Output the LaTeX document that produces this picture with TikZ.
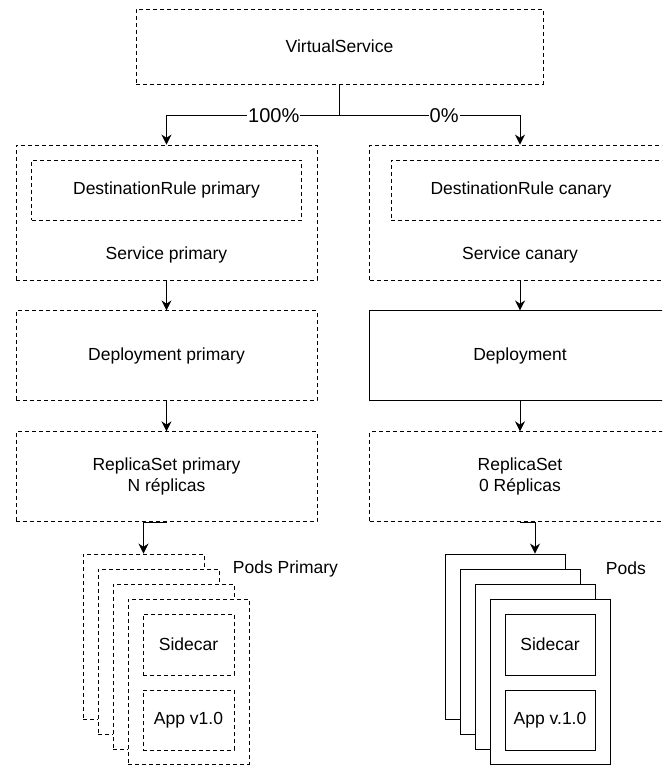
\documentclass[tikz,border=0pt]{standalone}
\usepackage{fontspec}
\setmainfont{Liberation Sans}
\usetikzlibrary{positioning,arrows.meta}

\tikzset{
  dbox/.style={draw, dash pattern=on 4pt off 3pt, line width=0.9pt, minimum width=301pt},
  sbox/.style={draw, line width=0.9pt, minimum width=301pt},
  link/.style={draw, line width=0.9pt},
  arrow/.style={link, -{Stealth[length=10pt,width=10pt]}},
  pct/.style={fill=white, inner sep=1pt, font=\fontsize{20}{24}\selectfont},
  podP/.style={dbox, fill=white, minimum width=121pt, minimum height=165pt},
  podC/.style={sbox, fill=white, minimum width=120pt, minimum height=165pt},
}

\begin{document}
\begin{tikzpicture}[x=1pt, y=-1pt, font=\fontsize{17.5}{21}\selectfont]
    \useasboundingbox (0,0) rectangle (662,765);
    \clip (0,0) rectangle (662,765);

    % top
    \node[dbox, minimum width=407pt, minimum height=75pt] (vs) at (339.5,46.5) {VirtualService};
    \coordinate[below=31pt of vs.south] (split);

    % primary side
    \node[dbox, minimum height=135pt] (svcP) at (166.5,212.5) {};
    \node[dbox, minimum width=270pt, minimum height=60pt, below=15pt of svcP.north] (drP) {DestinationRule primary};
    \node[above=14pt of svcP.south] (svcPtxt) {Service primary};
    \node[dbox, minimum height=90pt, below=30pt of svcP] (depP) {Deployment primary};
    \node[dbox, minimum height=90pt, below=30pt of depP, align=center] (repP) {ReplicaSet primary\\N réplicas};

    % canary side
    \node[dbox, minimum height=135pt] (svcC) at (520,212.5) {};
    \node[dbox, minimum width=300pt, minimum height=60pt, anchor=north west] (drC) at (391,160) {};
    \node (drCtxt) at (521,190) {DestinationRule canary};
    \node[above=14pt of svcC.south] (svcCtxt) {Service canary};
    \node[sbox, minimum height=90pt, below=30pt of svcC] (depC) {Deployment};
    \node[dbox, minimum height=90pt, below=30pt of depC, align=center] (repC) {ReplicaSet\\0 Réplicas};

    % pods
    \foreach \i in {1,...,4}
        \node[podP] (podP\i) at (128.5+15*\i, 621.5+15*\i) {};
    \node[dbox, minimum width=91pt, minimum height=61pt] (scP) at (188.5,644.5) {Sidecar};
    \node[dbox, minimum width=91pt, minimum height=60pt] (appP) at (188.5,720) {App v1.0};
    \node[right=10pt of podP2.north east] (podsP) {Pods Primary};

    \foreach \i in {1,...,4}
        \node[podC] (podC\i) at (490+15*\i, 621.5+15*\i) {};
    \node[sbox, minimum width=90pt, minimum height=61pt] (scC) at (550,644.5) {Sidecar};
    \node[sbox, minimum width=90pt, minimum height=60pt] (appC) at (550,720) {App v.1.0};
    \node[right=22pt of podC2.north east] (podsC) {Pods};

    % connectors
    \draw[link] (vs) -- (split);
    \draw[arrow] (split) -| node[pct, pos=0.19] {100\%} (svcP);
    \draw[arrow] (split) -| node[pct, pos=0.29] {0\%} (svcC);
    \draw[arrow] (svcP) -- (depP);
    \draw[arrow] (depP) -- (repP);
    \draw[arrow] (svcC) -- (depC);
    \draw[arrow] (depC) -- (repC);
    \draw[arrow] (repP.south) -| (podP1);
    \draw[arrow] (repC.south) -| ([xshift=30pt]podC1.north);
\end{tikzpicture}
\end{document}
